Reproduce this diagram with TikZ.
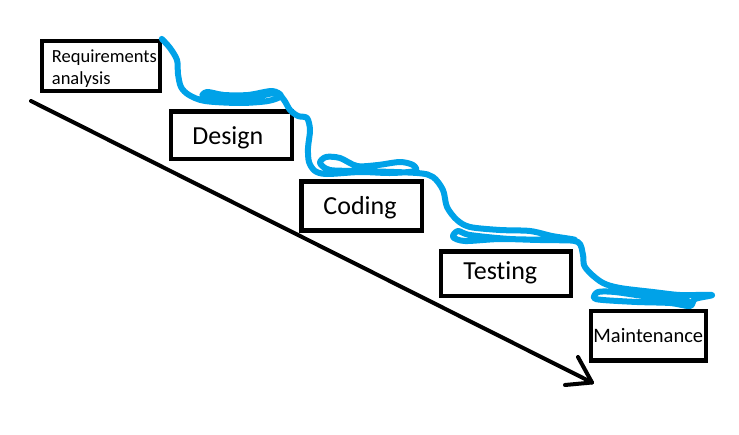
\documentclass[tikz,border=0pt]{standalone}
\usepackage{fontspec}
\setmainfont{Carlito}[Ligatures=NoCommon]
\definecolor{paintblue}{HTML}{00A2E8}
\begin{document}
\begin{tikzpicture}[x=1pt,y=-1pt,
  stage/.style={draw=black, line width=4.6pt, inner sep=0pt, rectangle},
  lbl/.style={inner sep=0pt, anchor=base},
  wave/.style={draw=paintblue, line width=6pt, line cap=round, line join=round},
  flow/.style={draw=black, line width=4pt, line cap=round, line join=round}]
\useasboundingbox (0,0) rectangle (739,434);
% boxes
\node[stage, line width=4.2pt, minimum width=117.7pt, minimum height=50.3pt] (req) at (100.85,66.15) {};
\node[stage, minimum width=121pt, minimum height=47.5pt] (design) at (231.5,135.25) {};
\node[stage, minimum width=120.1pt, minimum height=48.8pt] (coding) at (361.75,206.1) {};
\node[stage, minimum width=130pt, minimum height=44.3pt] (testing) at (505.8,273.65) {};
\node[stage, minimum width=115pt, minimum height=49.4pt] (maint) at (648.3,335.5) {};
% labels
\node[inner sep=0pt, anchor=base west, align=left, font=\fontsize{18.5}{21.6}\selectfont] (reqtxt) at (51.7,84.3) {Requirements\\analysis};
\node[lbl, font=\fontsize{26}{30}\selectfont] (designtxt) at (227.8,144) {Design};
\node[lbl, font=\fontsize{26}{30}\selectfont] (codingtxt) at (360,214) {Coding};
\node[lbl, font=\fontsize{26}{30}\selectfont] (testingtxt) at (500.3,279.3) {Testing};
\node[lbl, font=\fontsize{20.5}{24}\selectfont] (mainttxt) at (648.3,342) {Maintenance};
% arrow
\coordinate (start) at (31,101);
\coordinate (tip) at (592,382.5);
\coordinate (barbA) at (578,357);
\coordinate (barbB) at (565,385);
\draw[flow] (start) -- (tip);
\draw[flow] (barbA) -- (tip) -- (barbB);
% hand-drawn waterfall
\draw[wave] plot[smooth, tension=0.5] coordinates {
 (req.north east) (170,48) (177,60) (178,74) (181,87) (189,95) (205,101)
 (240,103) (268,101) (281,96) (272,91) (248,95) (224,95) (207,92) (203,97)
 (225,100) (255,97) (276,93) (284,100) (290,110) (298,116) (307,118)
 (310,130) (308,148) (309,162) (315,171) (327,174) (360,172) (390,173)
 (415,171) (413,165) (400,162) (378,165) (357,166) (340,158) (326,157)
 (320,163) (330,170) (360,171) (417,173) (433,177) (443,190) (447,207)
 (457,220) (470,227) (500,230) (530,231) (552,236) (575,240) (540,240)
 (500,239) (465,241) (453,237) (458,231) (470,235) (510,239) (555,240)
 (578,242) (583,255) (584,265) (590,273) (603,283) (620,288) (653,292)
 (680,295) (712,295) (695,299) (690,306) (670,303) (637,302) (603,300)
 (594,298) (598,292) (615,292) (650,297) (688,301)};
\end{tikzpicture}
\end{document}
